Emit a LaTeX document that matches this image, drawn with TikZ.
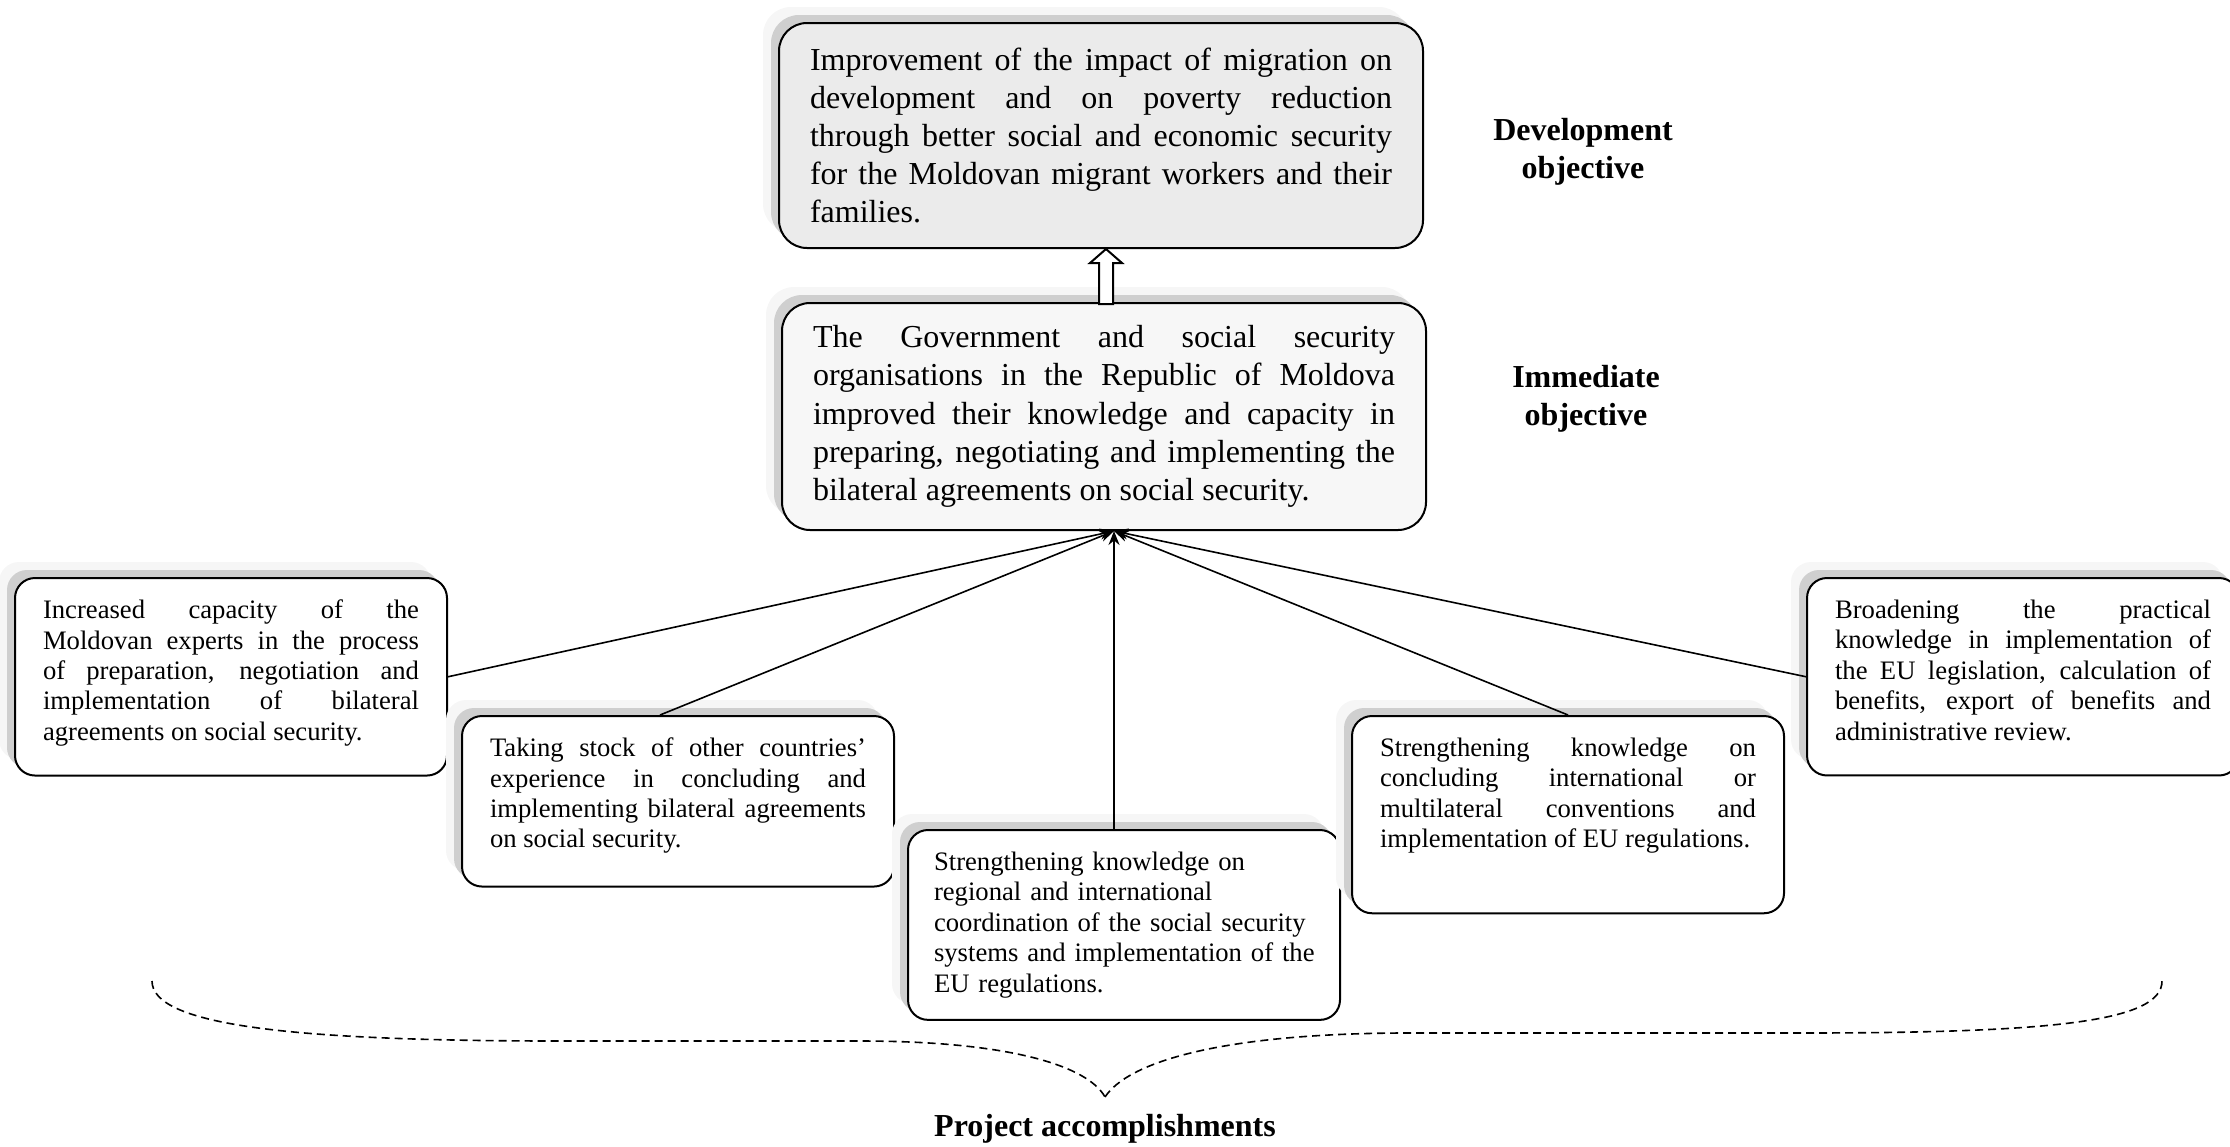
\documentclass[tikz,border=0pt]{standalone}
\usepackage{fontspec}
\setmainfont{Liberation Serif}
\usetikzlibrary{arrows.meta,shadows}
\tolerance=10000
\hbadness=10000
\hyphenpenalty=10000
\newcommand\padbottom[1]{\endgraf\vspace*{#1}}

\begin{document}
\begin{tikzpicture}[
    x=0.5pt, y=-0.5pt,
    objbox/.style={draw, line width=1pt, rounded corners=14pt, anchor=north west,
        font=\fontsize{16}{19.1}\selectfont, text width=291pt, align=justify,
        inner xsep=15.5pt, inner ysep=10pt,
        general shadow={fill=gray!7, shadow xshift=-8pt, shadow yshift=8pt},
        general shadow={fill=gray!38, shadow xshift=-4pt, shadow yshift=4pt}},
    resbox/.style={draw, fill=white, line width=1pt, rounded corners=10pt, anchor=north west,
        font=\fontsize{13.33}{15.2}\selectfont, text width=188pt, align=justify,
        inner xsep=14pt, inner ysep=11pt,
        general shadow={fill=gray!7, shadow xshift=-8pt, shadow yshift=8pt},
        general shadow={fill=gray!38, shadow xshift=-4pt, shadow yshift=4pt},
        execute at end node={\padbottom{#1}}},
    lvl/.style={font=\bfseries\fontsize{16}{18.8}\selectfont, align=center},
    link/.style={line width=0.8pt, -{Stealth[length=7pt,width=5.5pt]}},
    hollow/.style={draw, line width=1pt, fill=white},
    brace/.style={line width=0.8pt, dash pattern=on 4pt off 2.5pt}
]
\useasboundingbox (0,0) rectangle (2230,1146);

% objectives
\node[objbox, fill=gray!16, minimum height=112.5pt] (devgoal) at (778,22)
    {Improvement of the impact of migration on\linebreak
     development and on poverty reduction\linebreak
     through better social and economic security\linebreak
     for the Moldovan migrant workers and their\linebreak
     families.};
\node[objbox, fill=gray!6, minimum height=113.5pt] (immgoal) at (781,302)
    {The Government and social security\linebreak
     organisations in the Republic of Moldova\linebreak
     improved their knowledge and capacity in\linebreak
     preparing, negotiating and implementing the\linebreak
     bilateral agreements on social security.};
\node[lvl] (devlbl) at (1583,152) {Development\\objective};
\node[lvl] (immlbl) at (1586,399) {Immediate\\objective};

% accomplishments
\node[resbox=3.7pt] (acc1) at (14,577)
    {Increased capacity of the\linebreak
     Moldovan experts in the process\linebreak
     of preparation, negotiation and\linebreak
     implementation of bilateral\linebreak
     agreements on social security.};
\node[resbox=5.4pt] (acc2) at (461,715)
    {Taking stock of other countries'\linebreak
     experience in concluding and\linebreak
     implementing bilateral agreements\linebreak
     on social security.};
\node[resbox=0pt, align=left, text width=194pt, inner xsep=11pt] (acc3) at (907,829)
    {\hspace*{2pt}Strengthening knowledge on\\
     \hspace*{2pt}regional and international\\
     \hspace*{2pt}coordination of the social security\\
     \hspace*{2pt}systems and implementation of the\\
     \hspace*{2pt}EU regulations.};
\node[resbox=18.9pt] (acc4) at (1351,715)
    {Strengthening knowledge on\linebreak
     concluding international or\linebreak
     multilateral conventions and\linebreak
     implementation of EU regulations.};
\node[resbox=6.5pt] (acc5) at (1806,577)
    {Broadening the practical\linebreak
     knowledge in implementation of\linebreak
     the EU legislation, calculation of\linebreak
     benefits, export of benefits and\linebreak
     administrative review.};

% block arrow between the objectives
\coordinate (uptip) at ([xshift=2.5pt]devgoal.south);
\draw[hollow] (uptip) -- ++(8pt,-7pt) -- ++(-4.5pt,0) -- ++(0,-20.5pt) -- ++(-7pt,0)
    -- ++(0,20.5pt) -- ++(-4.5pt,0) -- cycle;

% links into the immediate objective
\coordinate (hub) at ([xshift=5pt]immgoal.south);
\draw[link] (acc1.east) -- (hub);
\draw[link] ([xshift=-9pt]acc2.north) -- (hub);
\draw[link] (acc3.north -| hub) -- (hub);
\draw[link] (acc4.north) -- (hub);
\draw[link] (acc5.west) -- (hub);

% brace
\coordinate (brleft) at (152,981);
\coordinate (brtip) at (1105,1097);
\coordinate (brright) at (2162,981);
\draw[brace] (brleft) .. controls (152,1025) and (290,1041) .. (560,1041) -- (860,1041)
    .. controls (1010,1041) and (1088,1066) .. (brtip);
\draw[brace] (brtip) .. controls (1128,1062) and (1220,1034) .. (1400,1033) -- (1800,1033)
    .. controls (2050,1033) and (2162,1022) .. (brright);
\node[lvl, inner sep=0pt] (accomp) at (1105,1129) {Project accomplishments};

\end{tikzpicture}
\end{document}
